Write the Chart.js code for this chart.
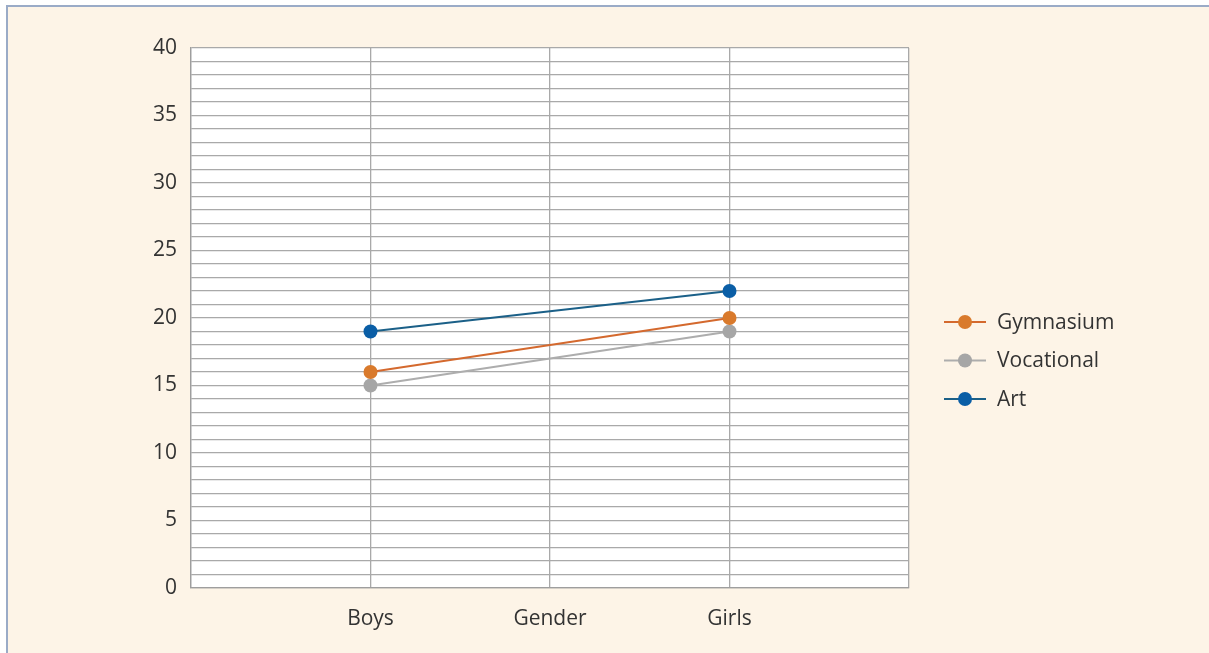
<!DOCTYPE html>
<html>
<head>
<meta charset="utf-8">
<script src="https://cdn.jsdelivr.net/npm/chart.js@4"></script>
<style>
  html, body { margin: 0; padding: 0; background: #ffffff; }
  #wrap { position: relative; width: 1209px; height: 653px; overflow: hidden; }
  #frame {
    position: absolute; left: 6px; top: 5px; right: 0; bottom: 0;
    background: #fdf4e7;
    border-top: 2px solid #9aabc7;
    border-left: 2px solid #9aabc7;
  }
  #chart { position: absolute; left: 0; top: 0; }
</style>
</head>
<body>
<div id="wrap">
  <div id="frame"></div>
  <canvas id="chart" width="1209" height="653"></canvas>
</div>
<script>
const categories = ["", "Boys", "Gender", "Girls", ""];
const seriesNames = ["Gymnasium", "Vocational", "Art"];
const gymnasium = [null, 16, null, 20, null];
const vocational = [null, 15, null, 19, null];
const art = [null, 19, null, 22, null];
const yTicks = [0, 5, 10, 15, 20, 25, 30, 35, 40];

const lineColors = ["#d4692e", "#adadad", "#1b6088"];
const pointColors = ["#d97a2c", "#a6a6a6", "#0a5ea6"];
const font = "'Open Sans', 'DejaVu Sans', sans-serif";

function makeDataset(i, values) {
  return {
    label: seriesNames[i],
    data: values,
    borderColor: lineColors[i],
    backgroundColor: pointColors[i],
    pointBackgroundColor: pointColors[i],
    pointBorderWidth: 0,
    pointRadius: 7,
    borderWidth: 2.2,
    spanGaps: true,
    tension: 0
  };
}

const plotBackground = {
  id: "plotBackground",
  beforeDraw(chart) {
    const a = chart.chartArea;
    const ctx = chart.ctx;
    ctx.save();
    ctx.fillStyle = "#ffffff";
    ctx.fillRect(a.left, a.top, a.right - a.left, a.bottom - a.top);
    ctx.restore();
  }
};

const sideLegend = {
  id: "sideLegend",
  afterDraw(chart) {
    const ctx = chart.ctx;
    const x0 = 944, rowTop = 322, rowGap = 38.5;
    ctx.save();
    chart.data.datasets.forEach((ds, i) => {
      const y = rowTop + i * rowGap;
      ctx.strokeStyle = ds.borderColor;
      ctx.lineWidth = 2;
      ctx.beginPath();
      ctx.moveTo(x0, y);
      ctx.lineTo(x0 + 42, y);
      ctx.stroke();
      ctx.fillStyle = ds.pointBackgroundColor;
      ctx.beginPath();
      ctx.arc(x0 + 21, y, 7, 0, Math.PI * 2);
      ctx.fill();
      ctx.fillStyle = "#333333";
      ctx.font = "21px " + font;
      ctx.textBaseline = "middle";
      ctx.textAlign = "left";
      ctx.fillText(ds.label, x0 + 53, y + 1);
    });
    ctx.restore();
  }
};

new Chart(document.getElementById("chart"), {
  type: "line",
  data: {
    labels: categories,
    datasets: [
      makeDataset(0, gymnasium),
      makeDataset(1, vocational),
      makeDataset(2, art)
    ]
  },
  options: {
    responsive: false,
    animation: false,
    layout: {
      padding: { left: 0, right: 300, top: 48, bottom: 0 }
    },
    scales: {
      x: {
        offset: false,
        grid: { color: "#a9a9a9", lineWidth: 1.3, drawTicks: false },
        border: { color: "#9e9e9e", width: 1.3 },
        ticks: {
          color: "#333333",
          font: { family: font, size: 21 },
          padding: 18,
          autoSkip: false,
          maxRotation: 0
        },
        afterFit(scale) { scale.height = 65; }
      },
      y: {
        min: 0,
        max: 40,
        grid: { color: "#a9a9a9", lineWidth: 1.3, drawTicks: false },
        border: { color: "#9e9e9e", width: 1.3 },
        ticks: {
          stepSize: 1,
          autoSkip: false,
          color: "#333333",
          font: { family: font, size: 21 },
          padding: 14,
          callback: (v) => (yTicks.includes(v) ? String(v) : "")
        },
        afterFit(scale) { scale.width = 191; }
      }
    },
    plugins: {
      legend: { display: false },
      tooltip: { enabled: false }
    }
  },
  plugins: [plotBackground, sideLegend]
});
</script>
</body>
</html>
